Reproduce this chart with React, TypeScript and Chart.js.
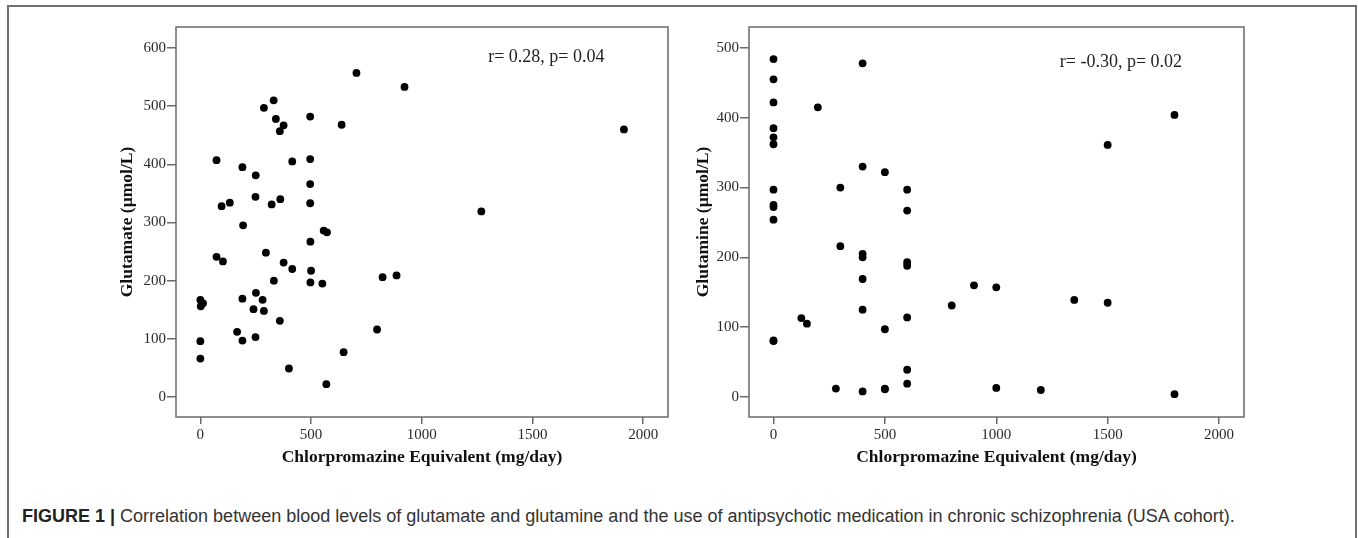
import React, { useEffect, useRef } from "react";
import { Chart, registerables } from "chart.js";

Chart.register(...registerables);

// ---- Data ----
const glutamateCPZ = [
  73, 96, 133, 190, 250, 249, 287, 331, 341, 376, 359, 322, 361, 415, 496, 496, 496, 496, 638, 705, 922, 1913, 1269,
  193, 73, 102, 296, 376, 415, 332, 497, 500, 497, 557, 572, 551, 823, 886, 798, 647, 569, 400, 359, 251, 281, 190,
  240, 287, 166, 190, 249, 0, 2, 12, 0, 0,
];
const glutamateVals = [
  407, 328, 334, 395, 381, 344, 497, 510, 478, 467, 457, 331, 340, 405, 482, 409, 366, 333, 468, 557, 533, 460, 319,
  295, 241, 233, 248, 231, 220, 200, 267, 217, 197, 286, 283, 195, 206, 209, 116, 77, 22, 49, 131, 179, 167, 169,
  151, 148, 112, 97, 103, 167, 156, 161, 96, 66,
];

const glutamineCPZ = [
  0, 0, 0, 0, 0, 0, 0, 0, 0, 0, 0, 0, 199, 400, 400, 500, 300, 600, 600, 300, 400, 400, 400, 600, 600, 900, 800,
  400, 600, 125, 150, 500, 600, 600, 280, 400, 500, 500, 1800, 1500, 1000, 1350, 1500, 1000, 1200, 1800,
];
const glutamineVals = [
  484, 455, 422, 385, 372, 362, 297, 275, 272, 254, 81, 80, 415, 478, 330, 322, 300, 297, 267, 216, 205, 200, 169,
  193, 188, 160, 131, 125, 114, 113, 105, 97, 39, 19, 12, 8, 12, 11, 404, 361, 157, 139, 135, 13, 10, 4,
];

const xTickValues = [0, 500, 1000, 1500, 2000];
const glutamateTickValues = [0, 100, 200, 300, 400, 500, 600];
const glutamineTickValues = [0, 100, 200, 300, 400, 500];

const xTitle = "Chlorpromazine Equivalent (mg/day)";
const glutamateTitle = "Glutamate (\u00b5mol/L)";
const glutamineTitle = "Glutamine (\u00b5mol/L)";
const glutamateStat = "r= 0.28, p= 0.04";
const glutamineStat = "r= -0.30, p= 0.02";
const captionBold = "FIGURE 1 |";
const captionText =
  " Correlation between blood levels of glutamate and glutamine and the use of antipsychotic medication in chronic schizophrenia (USA cohort).";

const SERIF = "'Liberation Serif', 'Times New Roman', serif";
const SANS = "'Liberation Sans', Arial, sans-serif";

const framePlugin = {
  id: "frameAndStat",
  afterDraw(chart: any, _args: any, opts: any) {
    const { ctx, chartArea } = chart;
    const { left, top, right, bottom } = chartArea;
    ctx.save();
    ctx.strokeStyle = "#6a6a6a";
    ctx.lineWidth = 1.5;
    ctx.strokeRect(left, top, right - left, bottom - top);
    if (opts && opts.text) {
      const px = chart.scales.x.getPixelForValue(opts.x);
      const py = chart.scales.y.getPixelForValue(opts.y);
      ctx.fillStyle = "#222";
      ctx.font = `18px ${SERIF}`;
      ctx.textAlign = "left";
      ctx.textBaseline = "middle";
      ctx.fillText(opts.text, px, py);
    }
    ctx.restore();
  },
};

type PanelProps = {
  xs: number[];
  ys: number[];
  yTicks: number[];
  yMin: number;
  yMax: number;
  yTitle: string;
  stat: string;
  statX: number;
  statY: number;
  left: number;
  yAxisWidth: number;
  yTitlePad: number;
};

function Panel(p: PanelProps) {
  const ref = useRef<HTMLCanvasElement | null>(null);
  useEffect(() => {
    if (!ref.current) return;
    const points = p.xs.map((x, i) => ({ x, y: p.ys[i] }));
    const chart = new Chart(ref.current, {
      type: "scatter",
      data: {
        datasets: [
          {
            data: points,
            backgroundColor: "#000",
            borderColor: "#000",
            pointRadius: 3.9,
            pointHoverRadius: 3.9,
            borderWidth: 0,
          },
        ],
      },
      options: {
        responsive: false,
        animation: false,
        events: [],
        layout: { padding: { left: 0, top: 27, right: 22, bottom: 0 } },
        plugins: {
          legend: { display: false },
          tooltip: { enabled: false },
          frameAndStat: { text: p.stat, x: p.statX, y: p.statY },
        } as any,
        scales: {
          x: {
            type: "linear",
            min: -110,
            max: 2112,
            afterBuildTicks: (scale: any) => {
              scale.ticks = xTickValues.map((v) => ({ value: v }));
            },
            afterFit: (scale: any) => {
              scale.height = 63;
            },
            ticks: {
              color: "#2a2a2a",
              font: { family: SERIF, size: 15 },
              padding: 2,
              maxRotation: 0,
              autoSkip: false,
              callback: (v: any) => String(v),
            },
            grid: {
              drawOnChartArea: false,
              drawTicks: true,
              tickLength: 7,
              color: "#6a6a6a",
              lineWidth: 1.5,
            },
            border: { display: false },
            title: {
              display: true,
              text: xTitle,
              color: "#111",
              font: { family: SERIF, size: 17.5, weight: "bold" },
              padding: { top: 0, bottom: 12.5 },
            },
          },
          y: {
            type: "linear",
            min: p.yMin,
            max: p.yMax,
            afterBuildTicks: (scale: any) => {
              scale.ticks = p.yTicks.map((v) => ({ value: v }));
            },
            afterFit: (scale: any) => {
              scale.width = p.yAxisWidth;
            },
            ticks: {
              color: "#2a2a2a",
              font: { family: SERIF, size: 15 },
              padding: 1,
              autoSkip: false,
              callback: (v: any) => String(v),
            },
            grid: {
              drawOnChartArea: false,
              drawTicks: true,
              tickLength: 9,
              color: "#6a6a6a",
              lineWidth: 1.5,
            },
            border: { display: false },
            title: {
              display: true,
              text: p.yTitle,
              color: "#111",
              font: { family: SERIF, size: 17.5, weight: "bold" },
              padding: { top: p.yTitlePad, bottom: 0 },
            },
          },
        },
      },
      plugins: [framePlugin],
    } as any);
    return () => chart.destroy();
  }, []);
  return (
    <canvas
      ref={ref}
      width={590}
      height={480}
      style={{ position: "absolute", left: p.left, top: 0, width: 590, height: 480 }}
    />
  );
}

export default function App() {
  return (
    <div
      style={{
        position: "absolute",
        left: 0,
        top: 0,
        width: 1358,
        height: 538,
        overflow: "hidden",
        background: "#fff",
      }}
    >
      <div
        style={{
          position: "absolute",
          left: 7,
          top: 5,
          width: 1350,
          height: 560,
          boxSizing: "border-box",
          border: "2px solid #707070",
          borderBottom: "none",
        }}
      />
      <Panel
        xs={glutamateCPZ}
        ys={glutamateVals}
        yTicks={glutamateTickValues}
        yMin={-34.4}
        yMax={636}
        yTitle={glutamateTitle}
        stat={glutamateStat}
        statX={1300}
        statY={584}
        left={100}
        yAxisWidth={76}
        yTitlePad={17}
      />
      <Panel
        xs={glutamineCPZ}
        ys={glutamineVals}
        yTicks={glutamineTickValues}
        yMin={-28.7}
        yMax={530}
        yTitle={glutamineTitle}
        stat={glutamineStat}
        statX={1285}
        statY={480}
        left={676}
        yAxisWidth={73}
        yTitlePad={16.5}
      />
      <div
        style={{
          position: "absolute",
          left: 22,
          top: 505,
          fontFamily: SANS,
          fontSize: 18,
          lineHeight: "22px",
          color: "#333",
          whiteSpace: "nowrap",
        }}
      >
        <span style={{ fontWeight: "bold", color: "#222" }}>{captionBold}</span>
        {captionText}
      </div>
    </div>
  );
}
